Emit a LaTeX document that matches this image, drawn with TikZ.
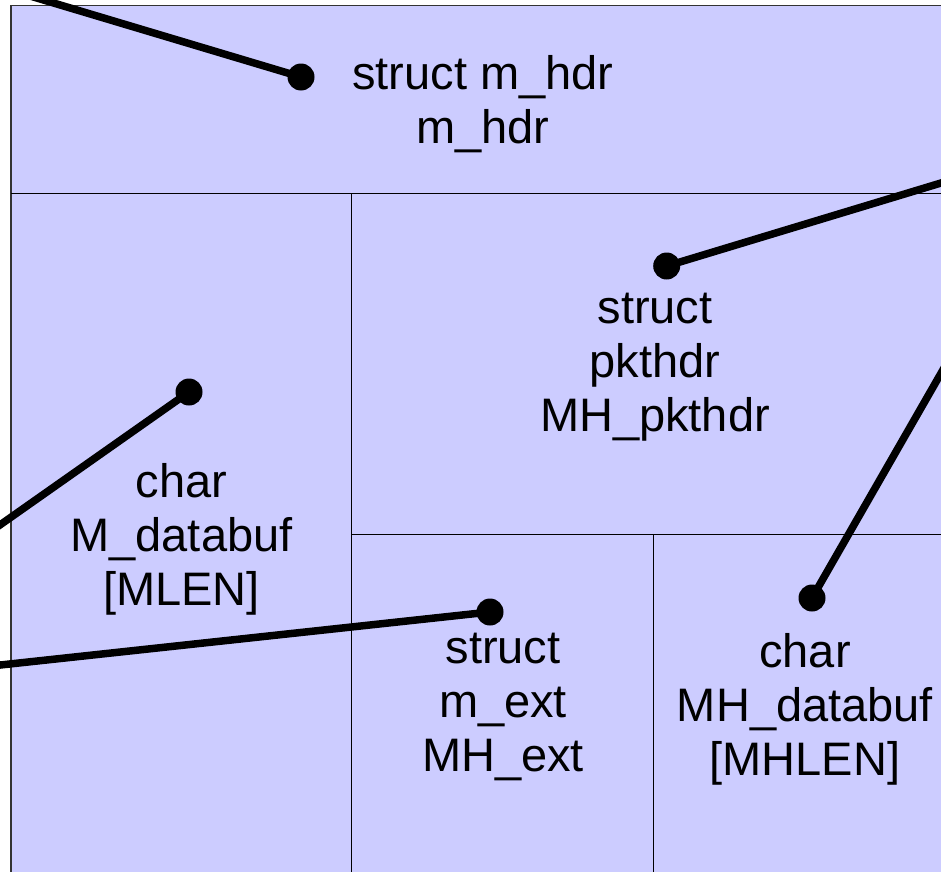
\documentclass[tikz,border=0pt]{standalone}
\usepackage{fontspec}
\setmainfont{Liberation Sans}
\definecolor{cellfill}{HTML}{CCCCFF}
\begin{document}
\begin{tikzpicture}[x=1bp,y=-1bp,
  field/.style={anchor=north,align=center,inner sep=0pt,
    font=\fontsize{47bp}{54bp}\selectfont},
  pin/.style={circle,fill=black,inner sep=0pt,minimum size=27bp},
  wire/.style={line width=7.5bp,black},
  divider/.style={line width=1.3bp,black}]
\useasboundingbox (0,0) rectangle (941,872);

% mbuf body and its internal partitions
\fill[cellfill] (11,5.5) rectangle (960,880);
\draw[line width=1.7bp,black!80] (11,880) -- (11,5.5) -- (960,5.5);
\draw[divider] (11,193.5) -- (960,193.5);
\draw[divider] (351.5,193.5) -- (351.5,880);
\draw[divider] (351.5,534.3) -- (960,534.3);
\draw[divider] (653.5,534.3) -- (653.5,880);

% field labels
\node[field] (hdr)    at (483,55.3)  {struct m\_hdr\\m\_hdr};
\node[field] (pkt)    at (655,293.3) {struct\\pkthdr\\MH\_pkthdr};
\node[field] (mbuf)   at (181.5,463.3) {char\\M\_databuf\\{}[MLEN]};
\node[field] (ext)    at (503,633.3) {struct\\m\_ext\\MH\_ext};
\node[field] (mhbuf)  at (805,633.3) {char\\MH\_databuf\\{}[MHLEN]};

% pointer ends
\node[pin] (p1) at (301,77) {};
\node[pin] (p2) at (666.7,266) {};
\node[pin] (p3) at (812,598) {};
\node[pin] (p4) at (189,392) {};
\node[pin] (p5) at (490,612) {};

\coordinate (e1) at (-20,-19);
\coordinate (e2) at (975,172.7);
\coordinate (e3) at (975,314);
\coordinate (e4) at (-20,539);
\coordinate (e5) at (-20,667.2);

\draw[wire] (e1) -- (p1.center);
\draw[wire] (e2) -- (p2.center);
\draw[wire] (e3) -- (p3.center);
\draw[wire] (e4) -- (p4.center);
\draw[wire] (e5) -- (p5.center);
\end{tikzpicture}
\end{document}
